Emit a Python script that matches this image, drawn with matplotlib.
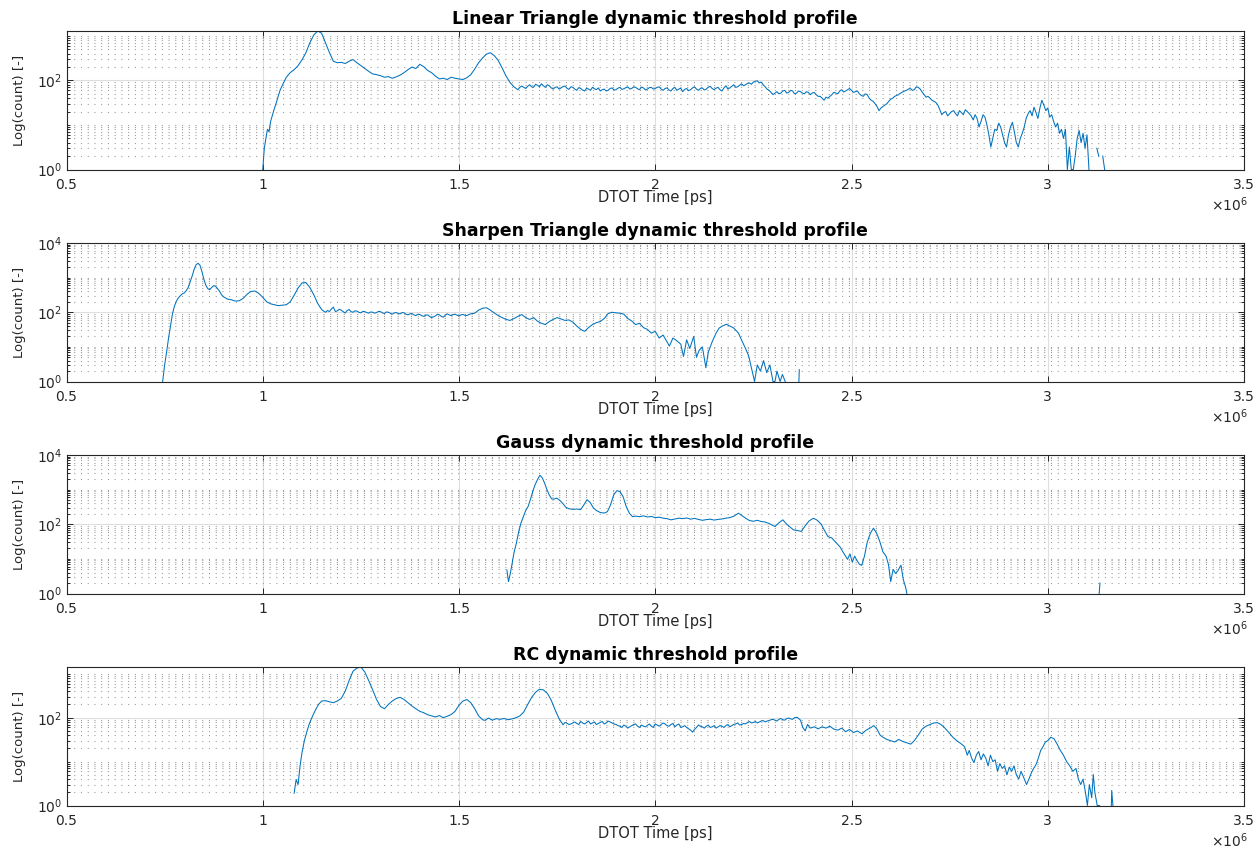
#!/usr/bin/env python3
"""DTOT time histograms for four dynamic threshold profiles (log counts)."""
import matplotlib
matplotlib.use("Agg")
import matplotlib.pyplot as plt
import numpy as np
from matplotlib.ticker import FixedLocator, FuncFormatter, NullFormatter
from matplotlib.transforms import offset_copy

LINE = "#0072BD"
GRID_MAJOR = "#dedede"
GRID_MINOR = "#9a9a9a"

# DTOT time in units of 1e6 ps, counts per bin
X_LINEAR = [
    1.000, 1.004, 1.008, 1.012, 1.016, 1.020, 1.028, 1.036, 1.044, 1.052, 1.060, 1.070,
    1.080, 1.090, 1.100, 1.110, 1.120, 1.130, 1.140, 1.150, 1.160, 1.170, 1.180, 1.190,
    1.200, 1.210, 1.220, 1.230, 1.240, 1.250, 1.260, 1.270, 1.280, 1.290, 1.300, 1.310,
    1.320, 1.330, 1.340, 1.350, 1.360, 1.370, 1.380, 1.390, 1.400, 1.410, 1.420, 1.430,
    1.440, 1.450, 1.460, 1.470, 1.480, 1.490, 1.500, 1.510, 1.520, 1.530, 1.540, 1.550,
    1.560, 1.570, 1.580, 1.590, 1.600, 1.610, 1.620, 1.630, 1.640, 1.650,
    1.655, 1.660, 1.665, 1.670, 1.675, 1.680, 1.685, 1.690, 1.695, 1.700,
    1.705, 1.710, 1.715, 1.720, 1.725, 1.730, 1.735, 1.740, 1.745, 1.750,
    1.755, 1.760, 1.765, 1.770, 1.775, 1.780, 1.785, 1.790, 1.795, 1.800,
    1.805, 1.810, 1.815, 1.820, 1.825, 1.830, 1.835, 1.840, 1.845, 1.850,
    1.855, 1.860, 1.865, 1.870, 1.875, 1.880, 1.885, 1.890, 1.895, 1.900,
    1.905, 1.910, 1.915, 1.920, 1.925, 1.930, 1.935, 1.940, 1.945, 1.950,
    1.955, 1.960, 1.965, 1.970, 1.975, 1.980, 1.985, 1.990, 1.995, 2.000,
    2.005, 2.010, 2.015, 2.020, 2.025, 2.030, 2.035, 2.040, 2.045, 2.050,
    2.055, 2.060, 2.065, 2.070, 2.075, 2.080, 2.085, 2.090, 2.095, 2.100,
    2.105, 2.110, 2.115, 2.120, 2.125, 2.130, 2.135, 2.140, 2.145, 2.150,
    2.155, 2.160, 2.165, 2.170, 2.175, 2.180, 2.185, 2.190, 2.195, 2.200,
    2.205, 2.210, 2.215, 2.220, 2.225, 2.230, 2.235, 2.240, 2.245, 2.250,
    2.255, 2.260, 2.265, 2.270, 2.275, 2.280, 2.285, 2.290, 2.295, 2.300,
    2.305, 2.310, 2.315, 2.320, 2.325, 2.330, 2.335, 2.340, 2.345, 2.350,
    2.355, 2.360, 2.365, 2.370, 2.375, 2.380, 2.385, 2.390, 2.395, 2.400,
    2.405, 2.410, 2.415, 2.420, 2.425, 2.430, 2.435, 2.440, 2.445, 2.450,
    2.455, 2.460, 2.465, 2.470, 2.475, 2.480, 2.485, 2.490, 2.495, 2.500,
    2.505, 2.510, 2.515, 2.520, 2.525, 2.530, 2.535, 2.540, 2.545, 2.550,
    2.555, 2.560, 2.565, 2.570, 2.575, 2.580, 2.585, 2.590, 2.595, 2.600,
    2.605, 2.610, 2.615, 2.620, 2.625, 2.630, 2.635, 2.640, 2.645, 2.650,
    2.655, 2.660, 2.665, 2.670, 2.675, 2.680, 2.685, 2.690, 2.695, 2.700,
    2.705, 2.710, 2.715, 2.720, 2.725, 2.730, 2.735, 2.740, 2.745, 2.750,
    2.755, 2.760, 2.765, 2.770, 2.775, 2.780, 2.785, 2.790, 2.795, 2.800,
    2.805, 2.810, 2.815, 2.820, 2.825, 2.830, 2.835, 2.840, 2.845, 2.850,
    2.855, 2.860, 2.865, 2.870, 2.875, 2.880, 2.885, 2.890, 2.895, 2.900,
    2.905, 2.910, 2.915, 2.920, 2.925, 2.930, 2.935, 2.940, 2.945, 2.950,
    2.955, 2.960, 2.965, 2.970, 2.975, 2.980, 2.985, 2.990, 2.995, 3.000,
    3.005, 3.010, 3.015, 3.020, 3.025, 3.030, 3.035, 3.040, 3.045, 3.050,
    3.055, 3.060, 3.065, 3.070, 3.075, 3.080, 3.085, 3.090, 3.095, 3.100,
    3.105, 3.110, 3.120, 3.125, 3.130, 3.135, 3.140, 3.145,
]
Y_LINEAR = [
    1, 3, 5, 8, 7, 12, 21, 35, 60, 85, 118, 150,
    175, 215, 290, 420, 700, 1050, 1290, 1150, 700, 420, 270, 250,
    255, 240, 270, 295, 250, 215, 185, 160, 140, 135, 128, 118,
    122, 112, 120, 132, 150, 175, 200, 185, 230, 205, 168, 150,
    125, 108, 112, 105, 118, 112, 108, 105, 115, 135, 180, 250,
    320, 390, 420, 360, 280, 190, 125, 90, 72, 62,
    70, 75, 70, 66, 74, 80, 72, 70, 82, 78,
    72, 84, 76, 70, 80, 76, 68, 64, 70, 72,
    64, 68, 73, 75, 67, 63, 72, 70, 64, 60,
    69, 66, 61, 58, 67, 64, 60, 70, 65, 62,
    68, 58, 62, 64, 58, 60, 66, 68, 61, 62,
    67, 70, 63, 65, 69, 72, 64, 66, 72, 70,
    65, 62, 71, 68, 61, 64, 69, 70, 64, 66,
    70, 72, 64, 60, 66, 68, 61, 58, 66, 70,
    60, 64, 67, 56, 63, 66, 59, 62, 68, 72,
    64, 60, 66, 68, 61, 64, 70, 74, 66, 62,
    67, 70, 62, 58, 68, 76, 64, 68, 74, 80,
    70, 72, 78, 84, 76, 80, 86, 88, 82, 92,
    96, 98, 88, 92, 80, 72, 64, 60, 54, 48,
    52, 56, 50, 52, 58, 60, 52, 54, 60, 58,
    50, 52, 58, 56, 52, 50, 56, 54, 48, 52,
    54, 48, 44, 44, 40, 36, 42, 40, 44, 48,
    54, 52, 50, 58, 62, 55, 58, 62, 66, 60,
    54, 56, 58, 50, 46, 44, 50, 48, 40, 36,
    34, 30, 26, 21, 24, 26, 28, 30, 34, 38,
    40, 44, 46, 48, 52, 55, 58, 60, 64, 66,
    60, 62, 72, 70, 64, 55, 48, 42, 44, 40,
    36, 34, 32, 28, 22, 17, 19, 20, 16, 18,
    20, 21, 18, 16, 21, 19, 17, 22, 20, 18,
    16, 13, 17, 14, 9, 12, 17, 15, 10, 6,
    3.2, 5, 8, 7.5, 11, 9, 6, 4, 3.2, 6,
    9, 11.5, 7, 4, 3.2, 5, 6.5, 9, 14, 18,
    21, 16, 25, 19, 14, 24, 36, 28, 21, 24,
    15, 17, 12, 9, 11, 6.5, 8, 5, 8, 1,
    3.2, 1, 1, 2, 5, 7.5, 4, 6.5, 3, 6,
    1, 0, 0, 3, 2, 0, 2, 1,
]

X_SHARPEN = [
    0.745, 0.750, 0.755, 0.760, 0.765, 0.770, 0.775, 0.780, 0.785, 0.790, 0.795, 0.800,
    0.805, 0.810, 0.815, 0.820, 0.825, 0.830, 0.835, 0.840, 0.845, 0.850, 0.855, 0.860,
    0.865, 0.870, 0.875, 0.880, 0.885, 0.890, 0.895, 0.900, 0.910, 0.920, 0.930, 0.940,
    0.950, 0.960, 0.970, 0.980, 0.990, 1.000, 1.010, 1.020, 1.030, 1.040, 1.050, 1.060,
    1.070, 1.080, 1.090, 1.100, 1.110, 1.120, 1.130, 1.140,
    1.150, 1.155, 1.160, 1.165, 1.170, 1.175, 1.180, 1.185, 1.190, 1.195,
    1.200, 1.205, 1.210, 1.215, 1.220, 1.225, 1.230, 1.235, 1.240, 1.245,
    1.250, 1.255, 1.260, 1.265, 1.270, 1.275, 1.280, 1.285, 1.290, 1.295,
    1.300, 1.305, 1.310, 1.315, 1.320, 1.325, 1.330, 1.335, 1.340, 1.345,
    1.350, 1.355, 1.360, 1.365, 1.370, 1.375, 1.380, 1.385, 1.390, 1.395,
    1.400, 1.405, 1.410, 1.415, 1.420, 1.425, 1.430, 1.435, 1.440, 1.445,
    1.450, 1.455, 1.460, 1.465, 1.470, 1.475, 1.480, 1.485, 1.490, 1.495,
    1.500, 1.505, 1.510, 1.515, 1.520, 1.525, 1.530, 1.535, 1.540,
    1.550, 1.560, 1.570, 1.580, 1.590, 1.600, 1.610, 1.620, 1.630, 1.640, 1.650, 1.660,
    1.670, 1.680, 1.690, 1.700, 1.710, 1.720, 1.730, 1.740, 1.750, 1.760, 1.770, 1.780,
    1.790, 1.800, 1.810, 1.820, 1.830, 1.840, 1.850, 1.860, 1.870, 1.880, 1.890, 1.900,
    1.910, 1.920, 1.930, 1.940, 1.950, 1.960, 1.970, 1.980, 1.990, 2.000, 2.010, 2.020,
    2.030, 2.036, 2.045, 2.055, 2.065, 2.072, 2.080, 2.088, 2.098, 2.105, 2.112, 2.120,
    2.129, 2.135, 2.145, 2.155, 2.163, 2.171, 2.181, 2.190, 2.200, 2.212, 2.222, 2.230,
    2.238, 2.246, 2.253, 2.260, 2.268, 2.276, 2.284, 2.292, 2.300, 2.305, 2.310, 2.318,
    2.324, 2.331, 2.340, 2.366, 2.367, 2.370,
]
Y_SHARPEN = [
    1, 3, 7, 18, 40, 90, 150, 210, 260, 300, 340, 360,
    420, 520, 750, 1100, 1700, 2350, 2600, 2300, 1500, 900, 600, 480,
    450, 520, 590, 560, 480, 400, 320, 280, 240, 230, 210, 215,
    250, 330, 400, 410, 350, 270, 200, 175, 165, 155, 160, 165,
    200, 310, 500, 700, 720, 520, 320, 180,
    120, 108, 100, 112, 105, 125, 140, 105, 110, 122,
    115, 104, 95, 112, 120, 104, 100, 110, 108, 100,
    96, 106, 104, 98, 94, 102, 100, 94, 98, 106,
    104, 96, 92, 102, 100, 94, 88, 96, 98, 92,
    90, 98, 96, 88, 84, 90, 92, 84, 80, 88,
    86, 80, 76, 82, 84, 76, 70, 74, 78, 88,
    84, 76, 72, 82, 90, 84, 80, 86, 88, 82,
    78, 84, 86, 82, 80, 86, 90, 92, 94,
    115, 130, 135, 115, 95, 80, 70, 62, 58, 66, 76, 86,
    70, 62, 70, 55, 48, 44, 54, 62, 70, 64, 58, 60,
    52, 40, 32, 28, 36, 44, 50, 54, 66, 92, 100, 96,
    94, 88, 66, 56, 44, 48, 36, 32, 25, 28, 18, 22,
    14, 10.5, 18, 15, 12, 5.3, 16, 9, 20, 5, 8, 10,
    2.5, 7, 14, 25, 35, 40, 45, 40, 35, 25, 14, 9,
    5.5, 2.2, 1, 3, 2, 4, 1.8, 3, 1, 1, 2, 1,
    1.6, 1, 0, 1, 2.2, 0,
]

X_GAUSS = [
    1.622, 1.626, 1.630, 1.634, 1.640, 1.646, 1.652, 1.658, 1.664, 1.670, 1.676, 1.682,
    1.688, 1.694, 1.700, 1.706, 1.712, 1.718, 1.724, 1.730, 1.736, 1.742, 1.748, 1.754,
    1.760, 1.766, 1.772, 1.780, 1.790, 1.800, 1.810, 1.818, 1.826, 1.834, 1.842, 1.850,
    1.860, 1.870, 1.878, 1.886, 1.894, 1.902, 1.910, 1.918, 1.926, 1.934, 1.942, 1.950,
    1.960, 1.970, 1.980, 1.990, 2.000, 2.010, 2.020, 2.030, 2.040, 2.050, 2.060, 2.070,
    2.080, 2.090, 2.100, 2.110, 2.120, 2.130, 2.140, 2.150, 2.160, 2.170, 2.180, 2.190,
    2.200, 2.212, 2.220, 2.230, 2.240, 2.250, 2.260, 2.270, 2.280, 2.290, 2.300, 2.305,
    2.315, 2.325, 2.335, 2.345, 2.352, 2.362, 2.372, 2.382, 2.392, 2.403, 2.413, 2.423,
    2.430, 2.440, 2.450, 2.460, 2.471, 2.478, 2.485, 2.490, 2.496, 2.502, 2.508, 2.514,
    2.520, 2.526, 2.533, 2.540, 2.548, 2.556, 2.564, 2.572, 2.580, 2.588, 2.594, 2.600,
    2.606, 2.612, 2.618, 2.626, 2.632, 2.638, 2.641, 2.650, 3.131, 3.133, 3.140,
]
Y_GAUSS = [
    4.8, 2.2, 3.5, 6, 15, 28, 60, 110, 166, 250, 325, 520,
    890, 1400, 1950, 2600, 2200, 1550, 1000, 700, 540, 530, 570, 520,
    450, 380, 310, 280, 270, 275, 265, 360, 510, 430, 300, 250,
    218, 210, 230, 360, 700, 930, 880, 630, 325, 209, 166, 172,
    165, 175, 162, 168, 155, 160, 150, 145, 134, 142, 150, 145,
    152, 140, 148, 138, 130, 136, 140, 132, 138, 142, 150, 155,
    170, 209, 180, 150, 128, 122, 130, 120, 116, 105, 92, 86,
    110, 134, 100, 80, 69, 66, 62, 90, 125, 149, 130, 100,
    70, 44, 40, 30, 22, 16, 12, 9.7, 14, 8, 12, 9,
    7, 6.5, 12, 30, 55, 77, 55, 32, 16, 12, 7, 2.2,
    5, 3.8, 4.5, 6.6, 2.5, 1.5, 1, 0, 1, 2, 0,
]

X_RC = [
    1.080, 1.085, 1.090, 1.095, 1.100, 1.106, 1.112, 1.118, 1.124, 1.130, 1.136, 1.142,
    1.150, 1.160, 1.170, 1.180, 1.190, 1.200, 1.210, 1.220, 1.230, 1.240, 1.250, 1.260,
    1.270, 1.280, 1.290, 1.300, 1.310, 1.320, 1.330, 1.340, 1.350, 1.360, 1.370, 1.380,
    1.390, 1.400, 1.410, 1.420, 1.430, 1.440, 1.450, 1.460, 1.470, 1.480, 1.490, 1.500,
    1.510, 1.520, 1.530, 1.540, 1.550, 1.560, 1.566, 1.575, 1.585, 1.595, 1.605, 1.615,
    1.625, 1.635, 1.645, 1.655, 1.665, 1.675, 1.685, 1.695, 1.705, 1.715, 1.725, 1.735,
    1.745, 1.755,
    1.765, 1.770, 1.775, 1.780, 1.785, 1.790, 1.795, 1.800, 1.805, 1.810,
    1.815, 1.820, 1.825, 1.830, 1.835, 1.840, 1.845, 1.850, 1.855, 1.860,
    1.865, 1.870, 1.875, 1.880, 1.885, 1.890, 1.895, 1.900, 1.905, 1.910,
    1.915, 1.920, 1.925, 1.930, 1.935, 1.940, 1.945, 1.950, 1.955, 1.960,
    1.965, 1.970, 1.975, 1.980, 1.985, 1.990, 1.995, 2.000, 2.005, 2.010,
    2.015, 2.020, 2.025, 2.030, 2.035, 2.040, 2.045, 2.050, 2.055, 2.060,
    2.065, 2.070, 2.075, 2.080, 2.085, 2.090, 2.095, 2.100, 2.105, 2.110,
    2.115, 2.120, 2.125, 2.130, 2.135, 2.140, 2.145, 2.150, 2.155, 2.160,
    2.165, 2.170, 2.175, 2.180, 2.185, 2.190, 2.195, 2.200, 2.205, 2.210,
    2.215, 2.220, 2.225, 2.230, 2.235, 2.240, 2.245, 2.250, 2.255, 2.260,
    2.265, 2.270, 2.275, 2.280, 2.285, 2.290, 2.295, 2.300, 2.305, 2.310,
    2.315, 2.320, 2.325, 2.330, 2.335, 2.340, 2.345, 2.350, 2.355,
    2.362, 2.370, 2.376, 2.382, 2.388, 2.395, 2.405, 2.415, 2.425, 2.435,
    2.445, 2.455, 2.465, 2.475, 2.485, 2.495, 2.505, 2.515, 2.527, 2.537, 2.547, 2.557,
    2.565, 2.573, 2.580, 2.590, 2.600, 2.610, 2.620, 2.630, 2.640, 2.651, 2.660, 2.670,
    2.680, 2.690, 2.700, 2.710, 2.719, 2.728, 2.738, 2.748, 2.758, 2.768, 2.778, 2.788,
    2.795, 2.800, 2.806, 2.812, 2.818, 2.824, 2.830, 2.836, 2.842, 2.848, 2.854, 2.860,
    2.866, 2.872, 2.878, 2.884, 2.890, 2.896, 2.902, 2.908, 2.914, 2.920, 2.926, 2.932,
    2.938, 2.946, 2.952, 2.958, 2.964, 2.970, 2.976, 2.982, 2.988, 2.994, 3.000, 3.008,
    3.016, 3.024, 3.032, 3.040, 3.048, 3.056, 3.064, 3.072, 3.078, 3.084, 3.090, 3.096,
    3.101, 3.106, 3.112, 3.116, 3.120, 3.126, 3.132, 3.140, 3.162, 3.163, 3.166, 3.170,
]
Y_RC = [
    1.9, 3.9, 3, 7.9, 16, 30, 47, 70, 95, 125, 160, 200,
    240, 245, 230, 220, 240, 275, 400, 700, 1150, 1350, 1430, 1100,
    700, 430, 260, 180, 160, 200, 240, 275, 290, 260, 220, 185,
    160, 140, 130, 117, 110, 104, 112, 100, 108, 118, 140, 192,
    240, 260, 220, 160, 110, 90, 87, 98, 88, 95, 92, 96,
    90, 94, 100, 110, 135, 200, 290, 380, 445, 430, 360, 250,
    150, 95,
    69, 78, 75, 70, 72, 76, 80, 74, 70, 82,
    76, 72, 78, 84, 72, 76, 80, 70, 74, 78,
    82, 72, 76, 84, 80, 76, 72, 70, 66, 64,
    60, 68, 64, 58, 62, 66, 70, 72, 64, 60,
    68, 64, 62, 67, 72, 64, 60, 72, 68, 64,
    70, 76, 72, 66, 64, 70, 74, 62, 68, 72,
    60, 62, 66, 60, 56, 52, 47, 54, 60, 68,
    64, 62, 58, 64, 68, 60, 62, 66, 58, 62,
    66, 64, 60, 66, 70, 62, 66, 70, 72, 76,
    68, 70, 74, 72, 78, 82, 76, 78, 82, 76,
    80, 84, 86, 80, 84, 86, 90, 92, 88, 84,
    92, 96, 90, 88, 96, 98, 94, 92, 100,
    102, 88, 60, 50, 70, 58, 62, 56, 62, 58,
    64, 55, 52, 58, 48, 54, 46, 50, 43, 52, 58, 66,
    55, 40, 36, 32, 30, 28, 32, 29, 27, 25, 30, 40,
    55, 64, 70, 76, 77, 70, 58, 46, 36, 30, 26, 22,
    14, 18, 12, 9.5, 14, 17, 11, 15, 12, 8, 14, 10,
    11, 6, 9, 7, 8, 5, 7.5, 6, 8, 5, 4, 6,
    4.5, 3, 4, 5.5, 7, 8.5, 12, 18, 22, 28, 30, 36,
    33, 25, 18, 14, 10, 8, 6, 7, 4, 3, 4, 2,
    1, 3, 1.5, 5.1, 2, 1, 1, 0, 1, 2.2, 1, 0,
]

PANELS = [
    ("Linear Triangle dynamic threshold profile", X_LINEAR, Y_LINEAR, 1290),
    ("Sharpen Triangle dynamic threshold profile", X_SHARPEN, Y_SHARPEN, 1e4),
    ("Gauss dynamic threshold profile", X_GAUSS, Y_GAUSS, 1e4),
    ("RC dynamic threshold profile", X_RC, Y_RC, 1430),
]
X_TICKS = [0.5, 1, 1.5, 2, 2.5, 3, 3.5]
X_TICK_LABELS = ["0.5", "1", "1.5", "2", "2.5", "3", "3.5"]
Y_MAJOR = [1, 1e2, 1e4]

plt.rcParams["font.family"] = ["DejaVu Sans"]
plt.rcParams["lines.scale_dashes"] = False

W, H = 1257, 851
LEFT, RIGHT = 66.5, 1244
AX_H = 138.5
TOPS = [31, 243, 455, 667]


def draw_panel(fig, top, title, x, y, ytop):
    ax = fig.add_axes([LEFT / W, 1 - (top + AX_H) / H, (RIGHT - LEFT) / W, AX_H / H])
    ax.set_yscale("log", nonpositive="mask")
    ax.set_xlim(0.5, 3.5)
    ax.set_ylim(1, ytop)

    ax.set_xticks(X_TICKS)
    ax.set_xticklabels(X_TICK_LABELS)
    ax.yaxis.set_major_locator(FixedLocator(Y_MAJOR))
    ax.yaxis.set_major_formatter(FuncFormatter(lambda v, _: r"$10^{%d}$" % round(np.log10(v))))
    minors = [m * 10 ** k for k in range(4) for m in range(1, 10)
              if m * 10 ** k not in Y_MAJOR]
    ax.yaxis.set_minor_locator(FixedLocator(minors))
    ax.yaxis.set_minor_formatter(NullFormatter())

    ax.grid(True, which="major", axis="both", color=GRID_MAJOR, lw=0.8, ls="-")
    ax.grid(True, which="minor", axis="y", color=GRID_MINOR, lw=0.8, ls=(0, (0.75, 4.1)))
    ax.set_axisbelow(True)

    ax.tick_params(which="both", direction="in", top=True, right=True,
                   colors="#262626", width=0.7, labelsize=10, pad=3)
    ax.tick_params(axis="x", pad=6)
    ax.tick_params(which="major", length=4)
    ax.tick_params(which="minor", length=2.2)
    for s in ax.spines.values():
        s.set_color("#262626")
        s.set_linewidth(0.8)

    ax.plot(x, y, color=LINE, lw=0.75)

    ax.set_title(title, fontsize=12.5, fontweight="bold", pad=5)
    ax.set_xlabel("DTOT Time [ps]", fontsize=10.5, color="#262626")
    ax.xaxis.set_label_coords(0.5, -0.15)
    ax.set_ylabel("Log(count) [-]", fontsize=9.5, color="#262626")
    ax.yaxis.set_label_coords(-0.034, 0.5)
    exp_tr = offset_copy(ax.transAxes, fig=fig, x=4, y=-35, units="dots")
    ax.text(1.0, 0.0, r"$\times10^{6}$", transform=exp_tr, ha="right", va="center",
            fontsize=10, color="#262626")
    return ax


fig = plt.figure(figsize=(W / 100, H / 100), dpi=100)
for top, (title, x, y, ytop) in zip(TOPS, PANELS):
    draw_panel(fig, top, title, x, y, ytop)

fig.savefig("out.png", dpi=100)
